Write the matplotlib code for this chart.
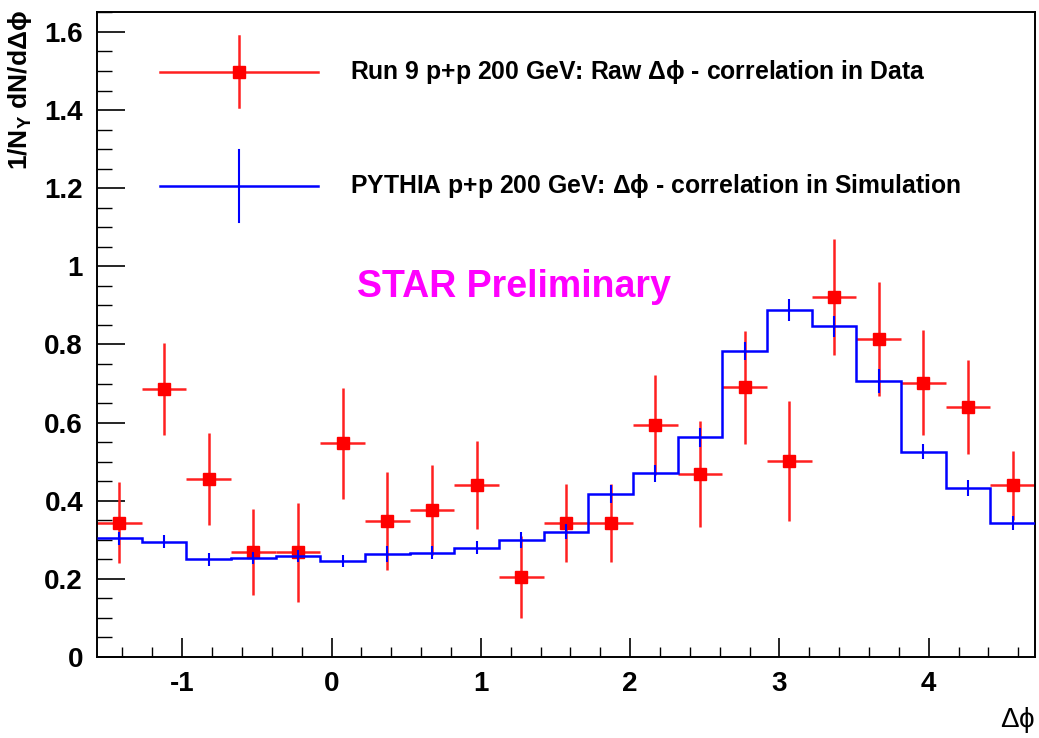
import numpy as np
import matplotlib
matplotlib.use("Agg")
import matplotlib.pyplot as plt
from matplotlib.ticker import MultipleLocator, FuncFormatter
from matplotlib.lines import Line2D

# ---------------- data ----------------
n_bins = 21
x_min = -np.pi / 2
x_max = 3 * np.pi / 2

data_y = [0.344, 0.685, 0.456, 0.268, 0.268, 0.547, 0.348, 0.376, 0.440, 0.206,
          0.344, 0.344, 0.594, 0.468, 0.690, 0.502, 0.922, 0.814, 0.702, 0.639, 0.439]
data_err = [0.103, 0.118, 0.117, 0.110, 0.127, 0.142, 0.125, 0.116, 0.112, 0.105,
            0.100, 0.100, 0.128, 0.136, 0.145, 0.154, 0.148, 0.145, 0.135, 0.120, 0.088]

sim_y = [0.304, 0.295, 0.250, 0.254, 0.259, 0.246, 0.263, 0.267, 0.280, 0.300,
         0.321, 0.417, 0.470, 0.562, 0.783, 0.888, 0.846, 0.707, 0.526, 0.433, 0.342]
sim_err = [0.017, 0.017, 0.017, 0.016, 0.016, 0.015, 0.020, 0.017, 0.017, 0.020,
           0.020, 0.024, 0.021, 0.024, 0.024, 0.028, 0.027, 0.030, 0.020, 0.020, 0.018]

label_data = "Run 9 p+p 200 GeV: Raw $\\mathregular{\\Delta\\phi}$ - correlation in Data"
label_sim = "PYTHIA p+p 200 GeV: $\\mathregular{\\Delta\\phi}$ - correlation in Simulation"

# ---------------- figure ----------------
plt.rcParams["font.family"] = ["Liberation Sans", "DejaVu Sans"]
plt.rcParams["mathtext.fontset"] = "custom"
plt.rcParams["mathtext.rm"] = "DejaVu Serif"
plt.rcParams["mathtext.it"] = "DejaVu Serif:italic"

fig = plt.figure(figsize=(10.39, 7.38), dpi=100)
ax = fig.add_axes([97 / 1039, 81 / 738, 938 / 1039, 645 / 738])

edges = np.linspace(x_min, x_max, n_bins + 1)
centers = 0.5 * (edges[:-1] + edges[1:])
half_w = 0.5 * (edges[1] - edges[0])

# data (red)
ax.errorbar(centers, data_y, xerr=half_w, yerr=data_err, fmt="s", color="#ff0000",
            ecolor="#ff2020", elinewidth=1.8, ms=9, mec="#ff0000", capsize=0, zorder=2)

# simulation (blue)
ax.stairs(sim_y, edges, baseline=None, color="#0000ff", lw=1.8, zorder=3)
ax.errorbar(centers, sim_y, yerr=sim_err, fmt="none", ecolor="#0000ff",
            elinewidth=1.5, capsize=0, zorder=3)

ax.set_xlim(x_min, x_max)
ax.set_ylim(0, 1.651)

ax.xaxis.set_major_locator(MultipleLocator(1))
ax.xaxis.set_minor_locator(MultipleLocator(0.2))
ax.yaxis.set_major_locator(MultipleLocator(0.2))
ax.yaxis.set_minor_locator(MultipleLocator(0.05))
ax.yaxis.set_major_formatter(FuncFormatter(lambda v, p: f"{v:g}"))
ax.xaxis.set_major_formatter(FuncFormatter(lambda v, p: f"{v:g}"))

ax.tick_params(axis="x", which="major", direction="in", length=14, width=1.2,
               labelsize=20, pad=10, top=False)
ax.tick_params(axis="x", which="minor", direction="in", length=7.5, width=1.0, top=False)
ax.tick_params(axis="y", which="major", direction="in", length=20, width=1.2,
               labelsize=20, pad=10, right=False)
ax.tick_params(axis="y", which="minor", direction="in", length=11, width=1.0, right=False)
for lab in ax.get_xticklabels() + ax.get_yticklabels():
    lab.set_fontweight("bold")
for sp in ax.spines.values():
    sp.set_linewidth(1.4)

# axis titles
fig.text(20 / 1039, 1 - 10 / 738, "1/N$_{\\mathregular{\\Upsilon}}$ dN/d$\\mathregular{\\Delta\\phi}$",
         rotation=90, ha="center", va="top", fontsize=19, fontweight="bold")
fig.text(1035 / 1039, 1 - 720 / 738, "$\\mathregular{\\Delta\\phi}$", ha="right", va="center",
         fontsize=20)

# STAR Preliminary
ax.text(0.4446, 0.5736, "STAR Preliminary", transform=ax.transAxes, color="#ff00ff",
        fontsize=27, fontweight="bold", ha="center", va="center")

# legend (manual, ROOT style)
tr = ax.transAxes
ax.add_line(Line2D([0.0672, 0.2356], [0.907, 0.907], transform=tr, color="#ff2020", lw=1.8))
ax.add_line(Line2D([0.1514, 0.1514], [0.853, 0.963], transform=tr, color="#ff2020", lw=1.8))
ax.add_line(Line2D([0.1514], [0.907], transform=tr, marker="s", ms=9, color="#ff0000", lw=0))
ax.add_line(Line2D([0.0672, 0.2356], [0.730, 0.730], transform=tr, color="#0000ff", lw=1.8))
ax.add_line(Line2D([0.1514, 0.1514], [0.674, 0.786], transform=tr, color="#0000ff", lw=1.5))
ax.text(0.2697, 0.907, label_data, transform=tr, fontsize=17.8, fontweight="bold",
        ha="left", va="center")
ax.text(0.2697, 0.730, label_sim, transform=tr, fontsize=17.8, fontweight="bold",
        ha="left", va="center")

fig.savefig("out.png", dpi=100)
